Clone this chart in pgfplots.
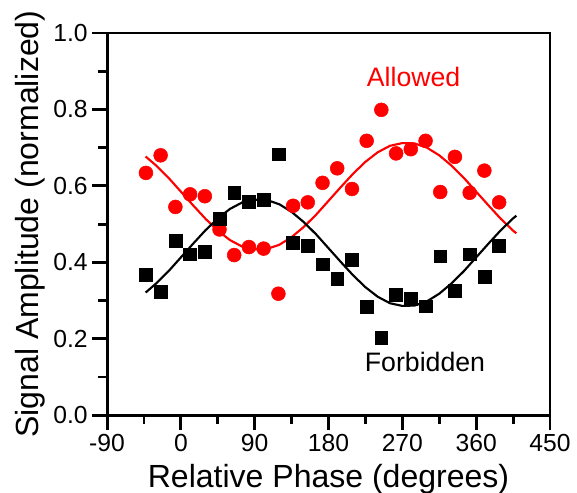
\documentclass[border=0pt]{standalone}
\usepackage{pgfplots}
\pgfplotsset{compat=1.18}
\usepackage{fontspec}
\setmainfont{Liberation Sans}

\pgfplotstableread{
x      allowed forbidden
-42.6  0.634   0.368
-24.7  0.680   0.322
-6.7   0.545   0.456
11.2   0.578   0.421
29.2   0.573   0.427
47.1   0.486   0.515
65.0   0.419   0.582
83.0   0.440   0.558
100.9  0.436   0.564
118.9  0.318   0.683
136.8  0.548   0.451
154.7  0.557   0.444
172.7  0.608   0.395
190.6  0.646   0.357
208.6  0.592   0.407
226.5  0.718   0.284
244.4  0.799   0.202
262.4  0.685   0.315
280.3  0.696   0.304
298.3  0.718   0.285
316.2  0.584   0.416
334.1  0.676   0.325
352.1  0.582   0.421
370.0  0.640   0.363
388.0  0.557   0.444
}\points

% fitted curves
\pgfplotstableread{
x     allowed forbidden
-43   0.677   0.321
-30   0.653   0.345
-15   0.621   0.377
0     0.585   0.413
15    0.549   0.449
30    0.514   0.484
45    0.483   0.515
60    0.458   0.540
75    0.441   0.557
90    0.434   0.564
105   0.435   0.563
120   0.446   0.552
135   0.466   0.532
150   0.493   0.505
165   0.525   0.473
180   0.561   0.437
195   0.597   0.401
210   0.632   0.366
225   0.663   0.335
240   0.688   0.310
255   0.705   0.293
270   0.712   0.286
285   0.711   0.287
300   0.700   0.298
315   0.680   0.318
330   0.653   0.345
345   0.621   0.377
360   0.585   0.413
375   0.549   0.449
390   0.514   0.484
405   0.483   0.515
409   0.476   0.522
}\fits

\begin{document}
\begin{tikzpicture}
\path[use as bounding box] (-80.25pt,-57.75pt) rectangle (352.25pt,311.25pt);
\begin{axis}[
    scale only axis,
    width=332pt, height=286.5pt,
    xmin=-90, xmax=450, ymin=0, ymax=1.0,
    xtick={-90,0,90,180,270,360,450},
    ytick={0,0.2,0.4,0.6,0.8,1.0},
    minor x tick num=1, minor y tick num=1,
    tick pos=left, tick align=outside,
    major tick length=11pt, minor tick length=6.5pt,
    axis line style={line width=2.2pt},
    every tick/.style={line width=2.2pt, black},
    /pgf/number format/assume math mode=true,
    yticklabel style={/pgf/number format/fixed, /pgf/number format/fixed zerofill, /pgf/number format/precision=1},
    tick label style={font=\fontsize{18.5}{22}\selectfont},
    xlabel={Relative Phase (degrees)},
    ylabel={Signal Amplitude (normalized)},
    label style={font=\fontsize{24}{28}\selectfont},
    xlabel style={at={(axis description cs:0.5,0)}, anchor=base, yshift=-54pt},
    ylabel style={at={([xshift=-51.4pt]axis description cs:0,0.5)}, anchor=base},
    clip=false,
]
\addplot[red, line width=1.6pt] table[x=x, y=allowed] {\fits};
\addplot[black, line width=1.6pt] table[x=x, y=forbidden] {\fits};
\addplot[only marks, mark=*, mark size=5.2pt, red, mark options={fill=red, draw=red}] table[x=x, y=allowed] {\points};
\addplot[only marks, mark=square*, mark size=4.8pt, black] table[x=x, y=forbidden] {\points};
\node[red, font=\fontsize{20}{24}\selectfont] at (axis cs:283.7,0.885) {Allowed};
\node[black, font=\fontsize{20}{24}\selectfont] at (axis cs:297.6,0.139) {Forbidden};
\end{axis}
\end{tikzpicture}
\end{document}
